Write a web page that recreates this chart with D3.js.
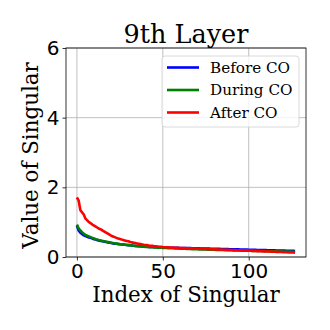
<!DOCTYPE html>
<html>
<head>
<meta charset="utf-8">
<script src="https://cdn.jsdelivr.net/npm/d3@7"></script>
<style>
  body { margin: 0; background: #fff; }
  svg { display: block; }
</style>
</head>
<body>
<svg width="330" height="330"></svg>
<script>
// значения сингулярных чисел (индексы 0..127)
const beforeCO = [
  0.90,0.76,0.70,0.66,0.62,0.60,0.58,0.56,0.55,0.53,0.51,0.50,0.48,0.47,0.46,0.45,
  0.44,0.43,0.42,0.41,0.40,0.39,0.385,0.38,0.37,0.365,0.36,0.355,0.35,0.345,0.34,0.335,
  0.33,0.325,0.32,0.316,0.312,0.308,0.304,0.30,0.297,0.294,0.291,0.288,0.285,0.283,0.281,0.279,
  0.277,0.275,0.273,0.271,0.269,0.267,0.266,0.265,0.264,0.263,0.262,0.261,0.260,0.259,0.258,0.257,
  0.256,0.255,0.254,0.253,0.251,0.250,0.249,0.248,0.246,0.245,0.244,0.243,0.241,0.240,0.239,0.238,
  0.236,0.235,0.234,0.232,0.231,0.230,0.228,0.227,0.226,0.224,0.223,0.222,0.220,0.219,0.218,0.216,
  0.215,0.214,0.212,0.211,0.210,0.208,0.207,0.206,0.204,0.203,0.202,0.200,0.199,0.198,0.196,0.195,
  0.194,0.192,0.191,0.190,0.188,0.187,0.186,0.184,0.183,0.182,0.180,0.179,0.178,0.176,0.175,0.172
];
const duringCO = [
  0.93,0.82,0.76,0.71,0.67,0.63,0.61,0.59,0.57,0.55,0.53,0.51,0.50,0.48,0.47,0.46,
  0.45,0.44,0.43,0.42,0.41,0.40,0.39,0.385,0.378,0.37,0.364,0.358,0.352,0.346,0.34,0.334,
  0.328,0.322,0.317,0.312,0.307,0.303,0.299,0.295,0.291,0.287,0.284,0.281,0.278,0.275,0.272,0.269,
  0.266,0.264,0.262,0.259,0.257,0.255,0.253,0.251,0.249,0.247,0.245,0.243,0.241,0.239,0.237,0.235,
  0.233,0.231,0.229,0.227,0.225,0.223,0.222,0.220,0.218,0.217,0.215,0.214,0.212,0.211,0.209,0.208,
  0.206,0.205,0.203,0.202,0.200,0.199,0.198,0.196,0.195,0.194,0.192,0.191,0.190,0.188,0.187,0.186,
  0.184,0.183,0.182,0.181,0.179,0.178,0.177,0.176,0.175,0.173,0.172,0.171,0.170,0.169,0.168,0.167,
  0.166,0.165,0.163,0.162,0.161,0.160,0.159,0.158,0.157,0.156,0.155,0.154,0.153,0.152,0.151,0.149
];
const afterCO = [
  1.71,1.62,1.35,1.28,1.22,1.10,1.05,1.00,0.97,0.93,0.90,0.87,0.84,0.81,0.79,0.76,
  0.73,0.70,0.67,0.64,0.61,0.59,0.57,0.55,0.53,0.52,0.50,0.49,0.47,0.46,0.45,0.43,
  0.42,0.41,0.40,0.39,0.38,0.37,0.36,0.35,0.345,0.34,0.33,0.325,0.32,0.31,0.305,0.30,
  0.295,0.29,0.285,0.282,0.279,0.276,0.273,0.270,0.268,0.266,0.264,0.262,0.260,0.258,0.256,0.254,
  0.252,0.250,0.248,0.246,0.244,0.242,0.240,0.238,0.236,0.234,0.232,0.230,0.228,0.226,0.224,0.222,
  0.220,0.218,0.216,0.214,0.212,0.210,0.208,0.206,0.204,0.202,0.200,0.198,0.196,0.194,0.192,0.190,
  0.188,0.186,0.184,0.182,0.180,0.178,0.176,0.174,0.172,0.170,0.168,0.166,0.164,0.162,0.160,0.158,
  0.156,0.154,0.152,0.150,0.148,0.146,0.144,0.142,0.140,0.138,0.136,0.134,0.132,0.130,0.127,0.122
];

const seriesNames = ["Before CO", "During CO", "After CO"];
const seriesColors = ["#0000ff", "#008000", "#ff0000"];
const xTicks = [0, 50, 100];
const yTicks = [0, 2, 4, 6];

const svg = d3.select("svg");
// поле графика
const pLeft = 66, pRight = 306, pTop = 48, pBottom = 257;

const n = beforeCO.length;
const pad = (n - 1) * 0.05;
const x = d3.scaleLinear().domain([-pad, n - 1 + pad]).range([pLeft, pRight]);
const y = d3.scaleLinear().domain([0, 6]).range([pBottom, pTop]);

// сетка
svg.append("g").selectAll("line").data(xTicks).join("line")
    .attr("x1", d => x(d)).attr("x2", d => x(d))
    .attr("y1", pTop).attr("y2", pBottom)
    .attr("stroke", "#b0b0b0").attr("stroke-width", 0.8);
svg.append("g").selectAll("line").data(yTicks).join("line")
    .attr("x1", pLeft).attr("x2", pRight)
    .attr("y1", d => y(d)).attr("y2", d => y(d))
    .attr("stroke", "#b0b0b0").attr("stroke-width", 0.8);

// линии
const line = d3.line()
    .x((d, i) => x(i))
    .y(d => y(d));

[beforeCO, duringCO, afterCO].forEach((s, k) => {
    svg.append("path")
        .attr("d", line(s))
        .attr("fill", "none")
        .attr("stroke", seriesColors[k])
        .attr("stroke-width", 2.6)
        .attr("stroke-linejoin", "round");
});

// оси
const xAxis = svg.append("g")
    .attr("transform", `translate(0,${pBottom})`)
    .call(d3.axisBottom(x).tickValues(xTicks).tickSize(3.5).tickPadding(3).tickFormat(d3.format("d")));
const yAxis = svg.append("g")
    .attr("transform", `translate(${pLeft},0)`)
    .call(d3.axisLeft(y).tickValues(yTicks).tickSize(3.5).tickPadding(3).tickFormat(d3.format("d")));
[xAxis, yAxis].forEach(a => {
    a.select(".domain").remove();
    a.selectAll("text").attr("font-family", "DejaVu Sans").attr("font-size", 20).attr("fill", "#000");
    a.selectAll("line").attr("stroke", "#000").attr("stroke-width", 0.8);
});

// рамка
svg.append("rect")
    .attr("x", pLeft).attr("y", pTop)
    .attr("width", pRight - pLeft).attr("height", pBottom - pTop)
    .attr("fill", "none").attr("stroke", "#000").attr("stroke-width", 0.8);

// заголовок и подписи осей
svg.append("text")
    .attr("x", (pLeft + pRight) / 2).attr("y", 43)
    .attr("text-anchor", "middle")
    .attr("font-family", "DejaVu Serif").attr("font-size", 25.5)
    .text("9th Layer");
svg.append("text")
    .attr("x", (pLeft + pRight) / 2).attr("y", 302)
    .attr("text-anchor", "middle")
    .attr("font-family", "DejaVu Serif").attr("font-size", 21.4)
    .text("Index of Singular");
svg.append("text")
    .attr("transform", `translate(37.5,${(pTop + pBottom) / 2 + 3}) rotate(-90)`)
    .attr("text-anchor", "middle")
    .attr("font-family", "DejaVu Serif").attr("font-size", 21.4)
    .text("Value of Singular");

// легенда
const legend = svg.append("g");
legend.append("rect")
    .attr("x", 162).attr("y", 56).attr("width", 137).attr("height", 71).attr("rx", 3)
    .attr("fill", "#fff").attr("fill-opacity", 0.8)
    .attr("stroke", "#d0d0d0").attr("stroke-width", 0.8);
seriesNames.forEach((name, k) => {
    const cy = 67.5 + k * 22.5;
    legend.append("line")
        .attr("x1", 167).attr("x2", 199).attr("y1", cy).attr("y2", cy)
        .attr("stroke", seriesColors[k]).attr("stroke-width", 2.6);
    legend.append("text")
        .attr("x", 210).attr("y", cy).attr("dy", "0.35em")
        .attr("font-family", "DejaVu Serif").attr("font-size", 15.2)
        .text(name);
});
</script>
</body>
</html>
